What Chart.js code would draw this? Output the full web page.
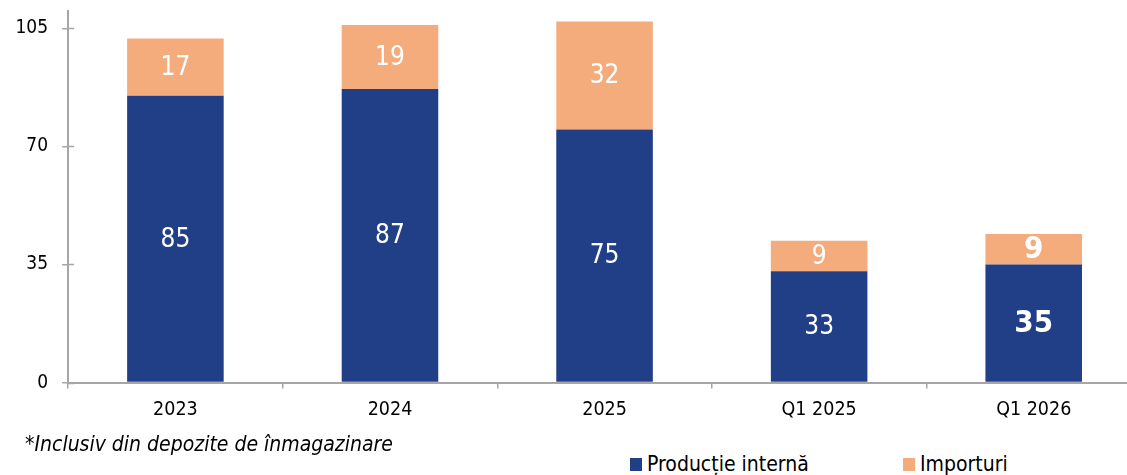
<!DOCTYPE html>
<html>
<head>
<meta charset="utf-8">
<script src="https://cdn.jsdelivr.net/npm/chart.js@4.4.1/dist/chart.umd.min.js"></script>
<style>
    html, body { margin: 0; padding: 0; background: #fff; overflow: hidden; }
    body { width: 1127px; height: 475px; position: relative; font-family: 'DejaVu Sans Condensed', 'DejaVu Sans', sans-serif; }
    #wrap { position: absolute; left: 0; top: -14.4px; width: 1141px; height: 447px; }
    .note { position: absolute; left: 25px; top: 434px; font-size: 21px; line-height: 21px; font-style: italic; color: #000; white-space: nowrap; }
    .leg { position: absolute; top: 454px; font-size: 21px; line-height: 21px; color: #000; white-space: nowrap; }
    .leg i { position: absolute; left: -17px; top: 4px; width: 12px; height: 13px; }
</style>
</head>
<body>
<div id="wrap"><canvas id="gasChart" width="1141" height="447"></canvas></div>
<div class="note">*Inclusiv din depozite de înmagazinare</div>
<div class="leg" style="left:647px"><i style="background:#213F87"></i>Producție internă</div>
<div class="leg" style="left:920px"><i style="background:#F4AC7C"></i>Importuri</div>
<script>
const categories = ['2023', '2024', '2025', 'Q1 2025', 'Q1 2026'];
const productie = [85, 87, 75, 33, 35];
const importuri = [17, 19, 32, 9, 9];
const yTicks = [0, 35, 70, 105];
const highlightCategory = 'Q1 2026';

const axisGrey = '#A6A6A6';
const fontFamily = "'DejaVu Sans Condensed', 'DejaVu Sans', sans-serif";

// white value labels in the middle of each segment
const segmentLabels = {
    id: 'segmentLabels',
    afterDatasetsDraw(chart) {
        const ctx = chart.ctx;
        ctx.save();
        ctx.fillStyle = '#fff';
        ctx.textAlign = 'center';
        ctx.textBaseline = 'middle';
        chart.data.datasets.forEach((ds, i) => {
            chart.getDatasetMeta(i).data.forEach((bar, j) => {
                const p = bar.getProps(['x', 'y', 'base'], true);
                const bold = chart.data.labels[j] === highlightCategory;
                ctx.font = (bold ? 'bold 31px ' : '26px ') + fontFamily;
                ctx.fillText(ds.data[j], p.x, (p.y + p.base) / 2 + 1);
            });
        });
        ctx.restore();
    }
};

// y tick marks cross the axis line
const crossTicks = {
    id: 'crossTicks',
    afterDraw(chart) {
        const y = chart.scales.y;
        const ctx = chart.ctx;
        ctx.save();
        ctx.strokeStyle = axisGrey;
        ctx.lineWidth = 1.5;
        yTicks.forEach(v => {
            const py = Math.round(y.getPixelForValue(v)) + 0.5;
            ctx.beginPath();
            ctx.moveTo(chart.chartArea.left, py);
            ctx.lineTo(chart.chartArea.left + 6, py);
            ctx.stroke();
        });
        ctx.restore();
    }
};

const ctx = document.getElementById('gasChart').getContext('2d');
new Chart(ctx, {
    type: 'bar',
    data: {
        labels: categories,
        datasets: [
            {
                label: 'Producție internă',
                data: productie,
                backgroundColor: '#213F87',
                categoryPercentage: 1,
                barPercentage: 0.45
            },
            {
                label: 'Importuri',
                data: importuri,
                backgroundColor: '#F4AC7C',
                categoryPercentage: 1,
                barPercentage: 0.45
            }
        ]
    },
    options: {
        responsive: false,
        animation: false,
        layout: { padding: { top: 0, left: 1.5, right: 0, bottom: 1 } },
        plugins: {
            legend: { display: false },
            tooltip: { enabled: false }
        },
        scales: {
            x: {
                stacked: true,
                grid: { drawOnChartArea: false, tickLength: 6, color: axisGrey, lineWidth: 1.5, offset: true },
                border: { color: axisGrey, width: 2 },
                ticks: { color: '#000', padding: 10, font: { family: fontFamily, size: 19.5 } }
            },
            y: {
                stacked: true,
                min: 0,
                max: 110,
                afterBuildTicks: scale => { scale.ticks = yTicks.map(v => ({ value: v })); },
                grid: { drawOnChartArea: false, tickLength: 6, color: axisGrey, lineWidth: 1.5 },
                border: { color: axisGrey, width: 2 },
                ticks: { color: '#000', padding: 14, font: { family: fontFamily, size: 19 } }
            }
        }
    },
    plugins: [segmentLabels, crossTicks]
});
</script>
</body>
</html>
